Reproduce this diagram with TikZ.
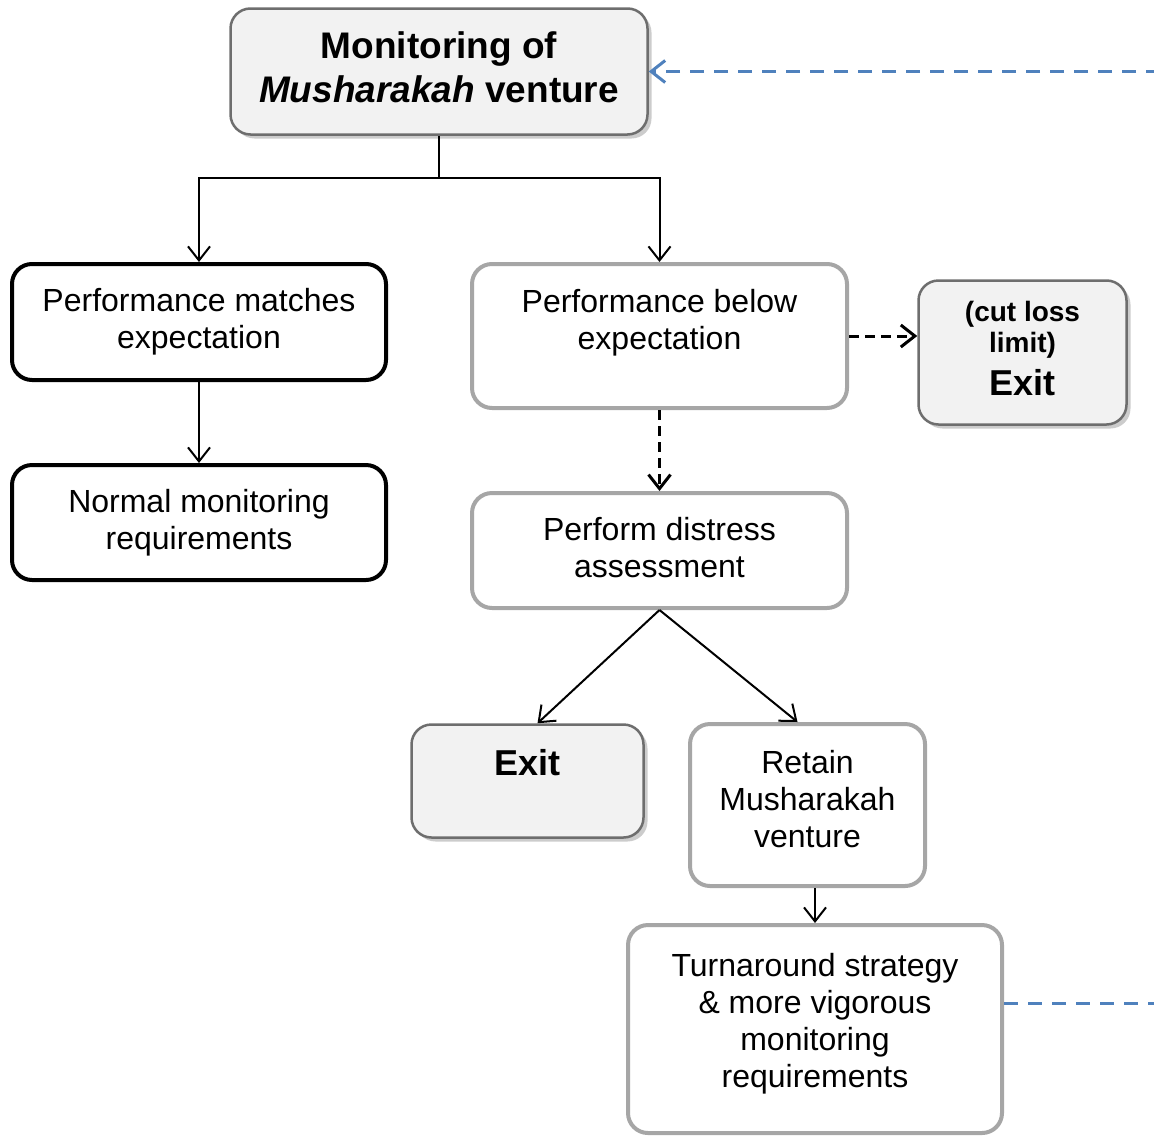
\documentclass[tikz,border=0pt]{standalone}
\usepackage{fontspec}
\setmainfont{Liberation Sans}
\usetikzlibrary{arrows.meta,shadows}

\begin{document}
\begin{tikzpicture}[x=0.5pt,y=0.5pt,>={Straight Barb[length=7pt,width=11pt]}]
\tikzset{
  box/.style={align=center, rounded corners=10pt, font=\fontsize{16}{18.5}\selectfont},
  greybox/.style={box, draw=boxedge, fill=boxfill, line width=1.25pt,
    drop shadow={shadow xshift=2pt, shadow yshift=-2pt, fill=black!40}},
  softbox/.style={box, draw=softedge, fill=white, line width=2pt},
  darkbox/.style={box, draw=black, fill=white, line width=2pt},
  flow/.style={->, line width=1pt},
  dashflow/.style={->, line width=1.5pt, dash pattern=on 5pt off 3pt},
  feedback/.style={draw=loopblue, line width=1.5pt, dash pattern=on 7pt off 5pt}
}

\definecolor{boxfill}{RGB}{242,242,242}
\definecolor{boxedge}{RGB}{110,110,110}
\definecolor{softedge}{RGB}{166,166,166}
\definecolor{loopblue}{RGB}{79,129,189}

\useasboundingbox (0,0) rectangle (1154,-1135);

% boxes
\node[greybox, minimum width=208.5pt, minimum height=63pt, text depth=4pt,
  font=\bfseries\fontsize{18.5}{22}\selectfont] (top) at (439,-71.5)
  {Monitoring of\\\textit{Musharakah} venture};
\node[darkbox, minimum width=187pt, minimum height=58pt] (match) at (199,-322)
  {Performance matches\\expectation};
\node[darkbox, minimum width=187pt, minimum height=57.5pt] (normal) at (199,-522.5)
  {Normal monitoring\\requirements};
\node[softbox, minimum width=187.5pt, minimum height=72pt, text depth=17pt] (below) at (659.5,-336)
  {Performance below\\expectation};
\node[greybox, minimum width=104pt, minimum height=72pt, text depth=4pt, font=\bfseries] (cut) at (1022.5,-352.5)
  {\fontsize{14}{15.5}\selectfont(cut loss\\[1.5pt]\fontsize{14}{15.5}\selectfont limit)\\[4.5pt]\fontsize{18}{20}\selectfont Exit};
\node[softbox, minimum width=187.5pt, minimum height=57.5pt, text depth=3pt] (distress) at (659.5,-550.5)
  {Perform distress\\assessment};
\node[greybox, minimum width=116pt, minimum height=56.5pt, text depth=19pt,
  font=\bfseries\fontsize{18}{20}\selectfont] (exit) at (527.5,-781) {Exit};
\node[softbox, minimum width=117.5pt, minimum height=81pt, text depth=6.5pt] (retain) at (807.5,-805)
  {Retain\\Musharakah\\venture};
\node[softbox, minimum width=187pt, minimum height=104pt, text depth=8.4pt] (turn) at (815,-1029)
  {Turnaround strategy\\\& more vigorous\\monitoring\\requirements};

% connectors
\coordinate (split) at (439,-178);
\draw[line width=1pt] (top.south) -- (split);
\draw[flow] (split) -| (match.north);
\draw[flow] (split) -| (below.north);
\draw[flow] (match) -- (normal);
\draw[dashflow] (below.east) -- (below.east -| cut.west);
\draw[dashflow] (below) -- (distress);
\draw[flow] (distress.south) -- ([xshift=5pt]exit.north);
\draw[flow] (distress.south) -- ([xshift=-5pt]retain.north);
\draw[flow] (retain.south -| turn.north) -- (turn.north);

% loop back
\coordinate (loopin) at (1160,-71.5);
\coordinate (loopout) at (1160,-1003);
\draw[feedback] (loopout -| turn.east) -- (loopout);
\draw[feedback,->] (loopin) -- (top.east);
\end{tikzpicture}
\end{document}
